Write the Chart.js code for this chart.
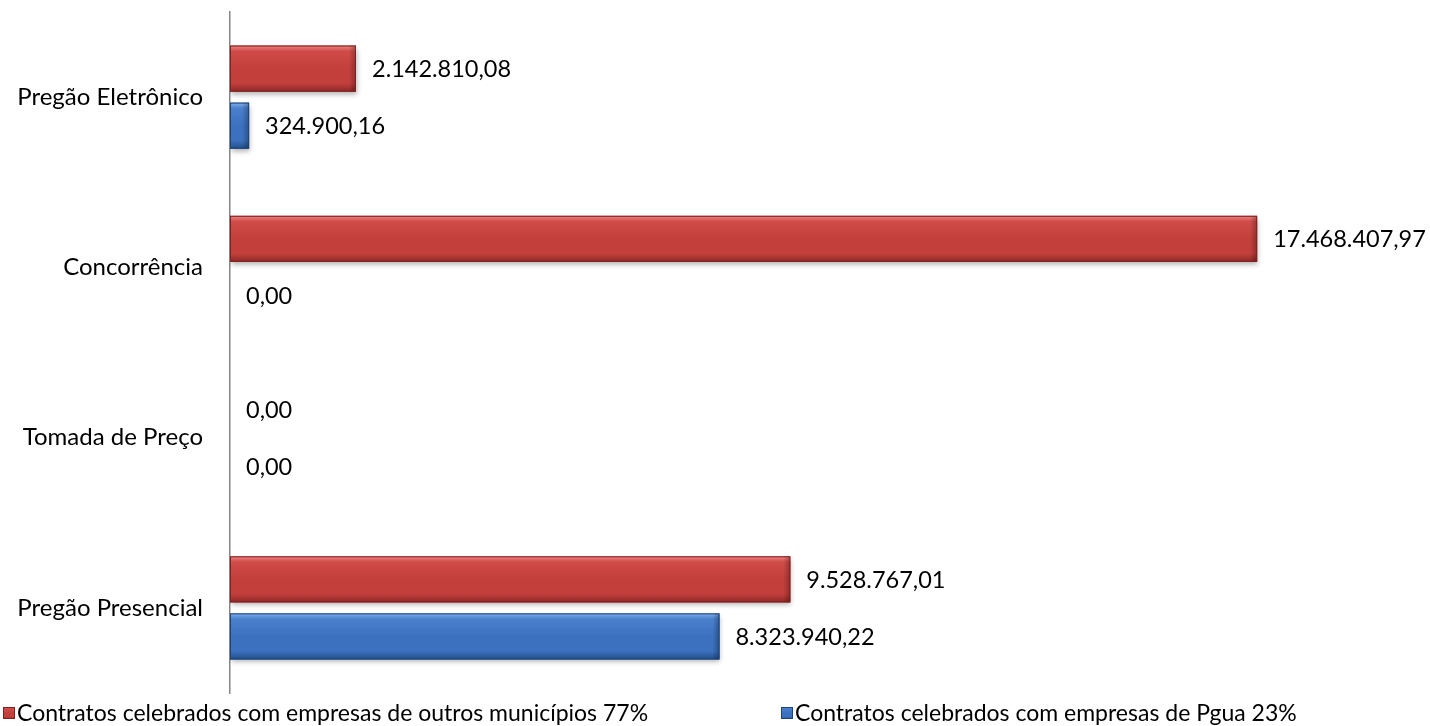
<!DOCTYPE html>
<html>
<head>
<meta charset="utf-8">
<script src="https://cdn.jsdelivr.net/npm/chart.js@4.4.1/dist/chart.umd.min.js"></script>
<style>
  html, body { margin: 0; padding: 0; background: #ffffff; }
  #wrap { width: 1430px; height: 726px; position: relative; }
</style>
</head>
<body>
<div id="wrap"><canvas id="c" width="1430" height="726"></canvas></div>
<script>
const categories = ['Pregão Eletrônico', 'Concorrência', 'Tomada de Preço', 'Pregão Presencial'];
const outrosMunicipios = [2142810.08, 17468407.97, 0, 9528767.01];
const pgua = [324900.16, 0, 0, 8323940.22];
const seriesNames = ['Contratos celebrados com empresas de outros municípios 77%', 'Contratos celebrados com empresas de Pgua 23%'];

const FONT = 'Lato, "Open Sans", sans-serif';
const palettes = [
  { hi: '#ee8682', main2: '#d04c49', main: '#c23f3c', lo: '#8c2826', border: '#7c2422' },
  { hi: '#84b2ee', main2: '#4a80cc', main: '#3b71bf', lo: '#234d89', border: '#1f4476' }
];

function fmt(v) {
  const parts = v.toFixed(2).split('.');
  const i = parts[0].replace(/\B(?=(\d{3})+(?!\d))/g, '.');
  return i + ',' + parts[1];
}

function bevelFill(ctx, left, top, w, h, p) {
  const g = ctx.createLinearGradient(0, top, 0, top + h);
  g.addColorStop(0, p.hi);
  g.addColorStop(0.12, p.main2);
  g.addColorStop(0.5, p.main);
  g.addColorStop(0.82, p.main);
  g.addColorStop(1, p.lo);
  ctx.fillStyle = g;
  ctx.fillRect(left, top, w, h);
}

const effectsPlugin = {
  id: 'effects',
  beforeDatasetsDraw(chart) {
    const ctx = chart.ctx;
    ctx.save();
    ctx.shadowColor = 'rgba(0,0,0,0.30)';
    ctx.shadowBlur = 5;
    ctx.shadowOffsetY = 3;
    ctx.shadowOffsetX = 1;
  },
  afterDatasetsDraw(chart) {
    const ctx = chart.ctx;
    ctx.restore();
    ctx.save();
    chart.data.datasets.forEach((ds, di) => {
      const meta = chart.getDatasetMeta(di);
      const p = palettes[di];
      meta.data.forEach((el, i) => {
        const props = el.getProps(['x', 'y', 'base', 'height']);
        const left = Math.min(props.base, props.x);
        const right = Math.max(props.base, props.x);
        const w = right - left;
        const top = props.y - props.height / 2;
        const h = props.height;
        if (w >= 1) {
          bevelFill(ctx, left, top, w, h, p);
          const gr = ctx.createLinearGradient(right - 7, 0, right, 0);
          gr.addColorStop(0, 'rgba(0,0,0,0)');
          gr.addColorStop(1, 'rgba(0,0,0,0.28)');
          ctx.fillStyle = gr;
          ctx.fillRect(Math.max(left, right - 7), top, Math.min(7, w), h);
          ctx.strokeStyle = p.border;
          ctx.lineWidth = 1;
          ctx.strokeRect(left + 0.5, top + 0.5, w - 1, h - 1);
        }
        ctx.fillStyle = '#000000';
        ctx.font = '23.5px ' + FONT;
        ctx.textAlign = 'left';
        ctx.textBaseline = 'middle';
        ctx.fillText(fmt(ds.data[i]), props.x + 16, props.y + 1);
      });
    });
    ctx.restore();
  },
  afterDraw(chart) {
    const ctx = chart.ctx;
    ctx.save();
    const xs = [3, 781];
    const yMid = 713;
    chart.data.datasets.forEach((ds, di) => {
      const p = palettes[di];
      const x = xs[di];
      bevelFill(ctx, x, yMid - 6, 12, 12, p);
      ctx.strokeStyle = p.border;
      ctx.lineWidth = 1;
      ctx.strokeRect(x + 0.5, yMid - 5.5, 11, 11);
      ctx.fillStyle = '#000000';
      ctx.font = '23px ' + FONT;
      ctx.textAlign = 'left';
      ctx.textBaseline = 'middle';
      ctx.fillText(ds.label, x + 14, yMid + 1);
    });
    ctx.restore();
  }
};

new Chart(document.getElementById('c'), {
  type: 'bar',
  data: {
    labels: categories,
    datasets: [
      { label: seriesNames[0], data: outrosMunicipios, backgroundColor: palettes[0].main, borderColor: palettes[0].border, borderWidth: 0 },
      { label: seriesNames[1], data: pgua, backgroundColor: palettes[1].main, borderColor: palettes[1].border, borderWidth: 0 }
    ]
  },
  options: {
    indexAxis: 'y',
    responsive: false,
    devicePixelRatio: 1,
    animation: false,
    categoryPercentage: 0.67,
    barPercentage: 0.807,
    layout: { padding: { top: 12, right: 24, bottom: 33, left: 0 } },
    plugins: {
      legend: { display: false },
      tooltip: { enabled: false }
    },
    scales: {
      x: { display: false, min: 0, max: 20000000 },
      y: {
        grid: { display: false, drawTicks: false },
        border: { display: true, color: '#868686', width: 1.5 },
        ticks: { color: '#000000', font: { family: FONT, size: 24 }, padding: 27 },
        afterFit(scale) { scale.width = 230; scale.paddingTop = 0; scale.paddingBottom = 0; }
      }
    }
  },
  plugins: [effectsPlugin]
});
</script>
</body>
</html>
